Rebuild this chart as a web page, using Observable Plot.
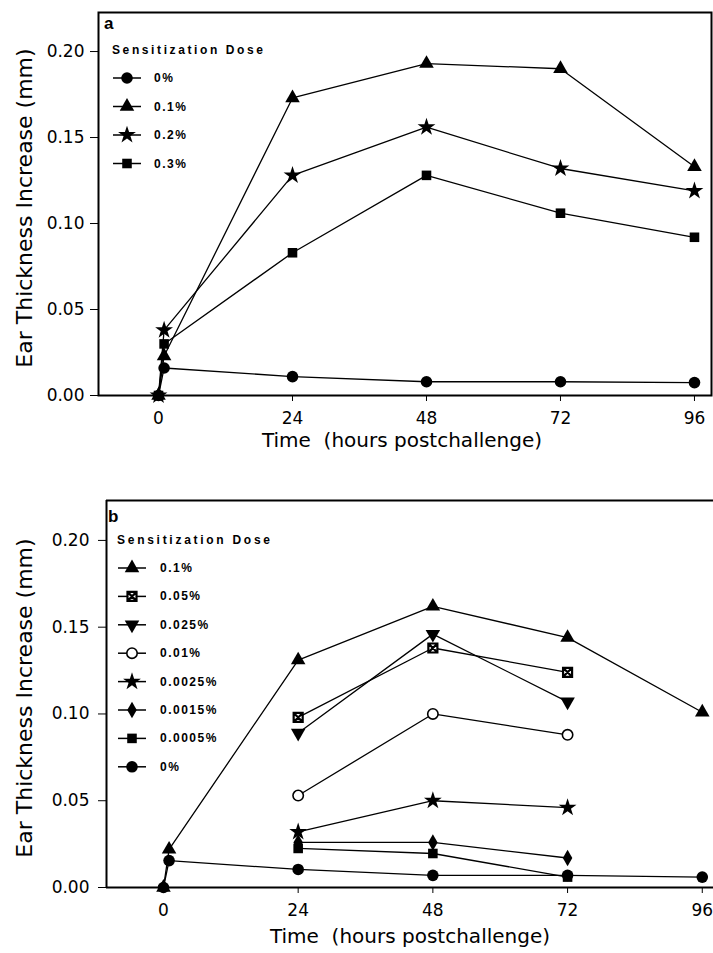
<!DOCTYPE html>
<html><head><meta charset="utf-8">
<script src="https://cdn.jsdelivr.net/npm/d3@7"></script>
<script src="https://cdn.jsdelivr.net/npm/@observablehq/plot@0.6"></script>
<style>
body{margin:0;background:#fff;width:713px;}
#chart svg{display:block;}
</style></head><body><div id="chart"></div>
<script>
// ---------- Panel a data ----------
const timesA = [0, 1, 24, 48, 72, 96];
const dosesA = ["0%", "0.1%", "0.2%", "0.3%"];
const a_0   = [0, 0.016, 0.011, 0.008, 0.008, 0.0075];
const a_01  = [0, 0.023, 0.173, 0.193, 0.190, 0.133];
const a_02  = [0, 0.038, 0.128, 0.156, 0.132, 0.119];
const a_03  = [0, 0.030, 0.083, 0.128, 0.106, 0.092];

// ---------- Panel b data ----------
const timesB  = [0, 1, 24, 48, 72, 96];
const timesB3 = [24, 48, 72];
const dosesB = ["0.1%", "0.05%", "0.025%", "0.01%", "0.0025%", "0.0015%", "0.0005%", "0%"];
const b_01     = [0, 0.022, 0.131, 0.162, 0.144, 0.101];
const b_005    = [0.098, 0.138, 0.124];
const b_0025   = [0.089, 0.146, 0.107];
const b_001    = [0.053, 0.100, 0.088];
const b_00025  = [0.032, 0.050, 0.046];
const b_00015  = [0.026, 0.026, 0.017];
const b_00005  = [0.0225, 0.0196, 0.006];
const b_0      = [0, 0.0155, 0.0104, 0.007, 0.007, 0.006];

// ---------- ticks & labels ----------
const xTicks = [0, 24, 48, 72, 96];
const yTicks = [0, 0.05, 0.10, 0.15, 0.20];
const xTitle = "Time  (hours postchallenge)";
const yTitle = "Ear Thickness Increase (mm)";
const legendTitle = "Sensitization Dose";

// ---------- custom symbols ----------
const sqrt3 = Math.sqrt(3);
const triangleDown = {draw(ctx, size){ const y = Math.sqrt(size/(sqrt3*3)); ctx.moveTo(0, 2*y); ctx.lineTo(-sqrt3*y, -y); ctx.lineTo(sqrt3*y, -y); ctx.closePath(); }};
const boxX = {draw(ctx, size){ const h = Math.sqrt(size)/2.2; ctx.moveTo(-h,-h); ctx.lineTo(h,-h); ctx.lineTo(h,h); ctx.lineTo(-h,h); ctx.closePath(); ctx.moveTo(-h,-h); ctx.lineTo(h,h); ctx.moveTo(h,-h); ctx.lineTo(-h,h); }};

const styleOf = {
  "0%":      {symbol: d3.symbolCircle,   fill: "black", stroke: "none", r: 5.8},
  "0.1%":    {symbol: d3.symbolTriangle, fill: "black", stroke: "none", r: 5.4},
  "0.2%":    {symbol: d3.symbolStar,     fill: "black", stroke: "none", r: 5.6},
  "0.3%":    {symbol: d3.symbolSquare,   fill: "black", stroke: "none", r: 5.4},
  "0.05%":   {symbol: boxX,              fill: "white", stroke: "black", r: 5.6, sw: 2.2},
  "0.025%":  {symbol: triangleDown,      fill: "black", stroke: "none", r: 5.4},
  "0.01%":   {symbol: d3.symbolCircle,   fill: "white", stroke: "black", r: 5.2, sw: 1.6},
  "0.0025%": {symbol: d3.symbolStar,     fill: "black", stroke: "none", r: 5.6},
  "0.0015%": {symbol: d3.symbolDiamond,  fill: "black", stroke: "none", r: 5.0},
  "0.0005%": {symbol: d3.symbolSquare,   fill: "black", stroke: "none", r: 5.4}
};

const seriesA = [
  {dose: "0%",   t: timesA, v: a_0},
  {dose: "0.1%", t: timesA, v: a_01},
  {dose: "0.2%", t: timesA, v: a_02},
  {dose: "0.3%", t: timesA, v: a_03}
];
const seriesB = [
  {dose: "0.1%",    t: timesB,  v: b_01},
  {dose: "0.05%",   t: timesB3, v: b_005},
  {dose: "0.025%",  t: timesB3, v: b_0025},
  {dose: "0.01%",   t: timesB3, v: b_001},
  {dose: "0.0025%", t: timesB3, v: b_00025},
  {dose: "0.0015%", t: timesB3, v: b_00015},
  {dose: "0.0005%", t: timesB3, v: b_00005},
  {dose: "0%",      t: timesB,  v: b_0}
];

const FONT = "DejaVu Sans, Liberation Sans, sans-serif";
const BOLD = "Liberation Sans, Arial, sans-serif";

function rows(s){ return s.t.map((t, i) => ({t, v: s.v[i], dose: s.dose})); }

function panel(cfg){
  const all = cfg.series.flatMap(rows);
  const marks = [];
  if (cfg.fullFrame) marks.push(Plot.frame({stroke: "black", strokeWidth: 2}));
  else {
    marks.push(Plot.ruleY([cfg.yDomain[1]], {stroke: "black", strokeWidth: 2}));
    marks.push(Plot.ruleX([cfg.xDomain[0]], {stroke: "black", strokeWidth: 2}));
    marks.push(Plot.ruleY([cfg.yDomain[0]], {stroke: "black", strokeWidth: 2}));
  }
  marks.push(Plot.line(all, {x: "t", y: "v", z: "dose", stroke: "black", strokeWidth: 1.3}));
  for (const s of cfg.series) {
    const st = styleOf[s.dose];
    marks.push(Plot.dot(rows(s), {x: "t", y: "v", symbol: st.symbol, r: st.r, fill: st.fill, stroke: st.stroke, strokeWidth: st.sw || 0}));
  }
  const svg = Plot.plot({
    width: 713, height: cfg.height,
    marginTop: cfg.mt, marginBottom: cfg.mb, marginLeft: cfg.ml, marginRight: cfg.mr,
    style: {fontFamily: FONT, fontSize: "17px", background: "white", color: "black"},
    x: {domain: cfg.xDomain, ticks: xTicks, tickSize: 6, tickPadding: 10, label: null},
    y: {domain: cfg.yDomain, ticks: yTicks, tickFormat: d3.format(".2f"), tickSize: 8, tickPadding: cfg.ypad, label: null},
    marks
  });
  const g = d3.select(svg).append("g").attr("text-anchor", "start");
  // axis titles
  g.append("text").attr("x", cfg.xTitleX).attr("y", cfg.xTitleY).attr("text-anchor", "middle")
    .attr("font-family", FONT).attr("font-size", 20).attr("fill", "black").text(xTitle);
  g.append("text").attr("transform", `translate(${cfg.yTitleX},${cfg.yTitleY}) rotate(-90)`)
    .attr("text-anchor", "middle").attr("dominant-baseline", "central")
    .attr("font-family", FONT).attr("font-size", 22).attr("fill", "black").text(yTitle);
  // panel letter
  g.append("text").attr("x", cfg.letterX).attr("y", cfg.letterY).attr("text-anchor", "start").attr("font-family", BOLD)
    .attr("font-weight", "bold").attr("font-size", 17).attr("fill", "black").text(cfg.letter);
  // legend
  g.append("text").attr("x", cfg.legX).attr("y", cfg.legTitleY).attr("text-anchor", "start").attr("dominant-baseline", "central")
    .attr("font-family", BOLD).attr("font-weight", "bold").attr("font-size", 12)
    .attr("textLength", cfg.legTitleLen).attr("lengthAdjust", "spacing").attr("fill", "black").text(legendTitle);
  cfg.series.forEach((s, i) => {
    const y = cfg.legRowY0 + i * cfg.legRowDy;
    const st = styleOf[s.dose];
    g.append("line").attr("x1", cfg.legMarkX - 14).attr("x2", cfg.legMarkX + 14).attr("y1", y).attr("y2", y)
      .attr("stroke", "black").attr("stroke-width", 1.5);
    g.append("path").attr("transform", `translate(${cfg.legMarkX},${y})`)
      .attr("d", d3.symbol().type(st.symbol).size(Math.PI * st.r * st.r)())
      .attr("fill", st.fill).attr("stroke", st.stroke).attr("stroke-width", st.sw || 0);
    g.append("text").attr("x", cfg.legLabelX).attr("y", y).attr("text-anchor", "start").attr("dominant-baseline", "central")
      .attr("font-family", BOLD).attr("font-weight", "bold").attr("font-size", 12)
      .attr("letter-spacing", 1.5).attr("fill", "black").text(s.dose);
  });
  return svg;
}

const chart = document.getElementById("chart");
chart.appendChild(panel({
  series: seriesA, height: 460, mt: 12, mb: 65, ml: 98, mr: 2, ypad: 6,
  xDomain: [-10.75, 99.05], yDomain: [0, 0.2227], fullFrame: true,
  xTitleX: 402, xTitleY: 447, yTitleX: 24, yTitleY: 208,
  letter: "a", letterX: 104, letterY: 29,
  legX: 112, legTitleY: 50, legTitleLen: 151,
  legMarkX: 127, legLabelX: 154, legRowY0: 78, legRowDy: 28.5
}));
chart.appendChild(panel({
  series: seriesB, height: 493, mt: 40, mb: 66, ml: 106, mr: 0, ypad: 9,
  xDomain: [-10.15, 98.0], yDomain: [0, 0.223], fullFrame: false,
  xTitleX: 410, xTitleY: 483, yTitleX: 24, yTitleY: 238,
  letter: "b", letterX: 108, letterY: 62,
  legX: 117, legTitleY: 80, legTitleLen: 153,
  legMarkX: 132, legLabelX: 160, legRowY0: 108, legRowDy: 28.4
}));
</script></body></html>
